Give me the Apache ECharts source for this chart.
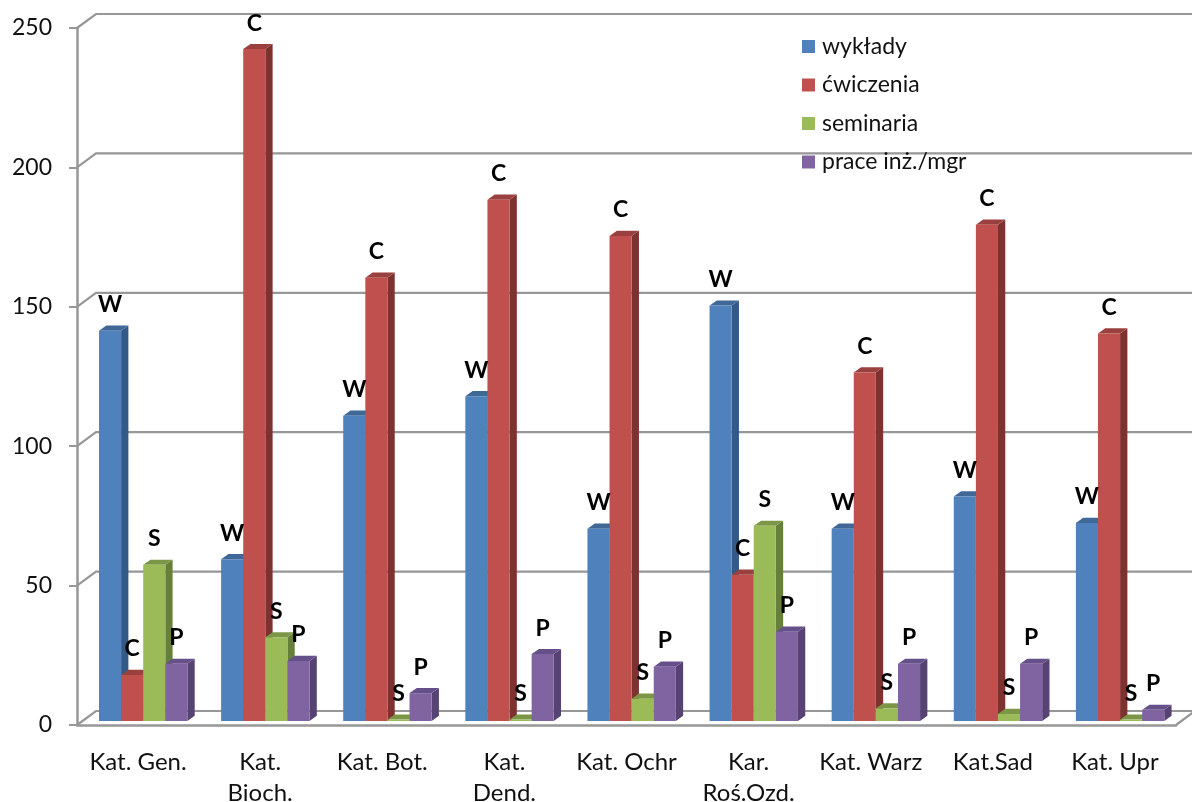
<!DOCTYPE html>
<html><head><meta charset="utf-8">
<script src="https://cdn.jsdelivr.net/npm/echarts@6/dist/echarts.min.js"></script>
<style>html,body{margin:0;padding:0;background:#fff}#c{width:1192px;height:802px}</style>
</head><body><div id="c"></div>
<script>
const categories = ['Kat. Gen.','Kat.\nBioch.','Kat. Bot.','Kat.\nDend.','Kat. Ochr','Kar.\nRoś.Ozd.','Kat. Warz','Kat.Sad','Kat. Upr'];
const wyklady   = [140, 58, 109.5, 116.5, 69, 149, 69, 80.5, 71];
const cwiczenia = [16.5, 241, 159, 187, 174, 52.5, 125, 178, 139];
const seminaria = [56, 30, 0.5, 0.5, 8, 70, 4.5, 2.5, 0.5];
const prace     = [20.5, 21.5, 10, 24, 19.5, 32, 20.5, 20.5, 4];
const yTicks = [0, 50, 100, 150, 200, 250];
const seriesNames = ['wykłady','ćwiczenia','seminaria','prace inż./mgr'];
const seriesLetters = ['W','C','S','P'];
const seriesValues = [wyklady, cwiczenia, seminaria, prace];

const FONT = 'Lato';
const colors = ['#4F81BD','#C0504D','#9BBB59','#8064A2'];
const sideColors = ['#335A87','#7D3230','#66803A','#574373'];
const topColors = ['#3F6897','#9A403E','#7C9647','#66508A'];
const GRID = '#979797';

function renderBar(si){
  return function(params, api){
    const cat = api.value(0), v = api.value(1);
    const band = api.size([1,0])[0];
    const w = 22.1, dx = 7.3, dy = 5.2, lift = 4;
    const c = api.coord([cat, v]), b = api.coord([cat, 0]);
    const x0 = c[0] - band/2 + 22 + si*w;
    const x1 = x0 + w;
    const yT = c[1] - lift, yB = b[1] - lift;
    return {type:'group', children:[
      {type:'polygon', z2:si, shape:{points:[[x1,yT],[x1+dx,yT-dy],[x1+dx,yB-dy],[x1,yB]]}, style:{fill:sideColors[si]}},
      {type:'polygon', z2:si, shape:{points:[[x0,yT],[x0+dx,yT-dy],[x1+dx,yT-dy],[x1,yT]]}, style:{fill:topColors[si]}},
      {type:'rect', z2:si, shape:{x:x0,y:yT,width:w,height:yB-yT}, style:{fill:colors[si]}},
      {type:'text', z2:20, style:{text:seriesLetters[si], x:(x0+x1)/2, y:yT-26, align:'center', verticalAlign:'middle',
        font:'bold 23px '+FONT, fill:'#000'}}
    ]};
  };
}

const wallSeries = {
  type:'custom', name:'wall', silent:true, z:1,
  data: yTicks.map(t => [0, t]),
  encode:{x:0,y:1},
  renderItem(params, api){
    const v = api.value(1), p = api.coord([0, v]);
    const cs = params.coordSys, x0 = cs.x, x1 = cs.x + cs.width;
    const dx = 19, dy = 14;
    const pts = [[x0,p[1]],[x0+dx,p[1]-dy],[x1+dx,p[1]-dy]];
    const kids = [{type:'polyline', shape:{points:pts}, style:{stroke:GRID, lineWidth:2.2, fill:null}}];
    if (v === 0) kids.push({type:'line', shape:{x1:x1,y1:p[1],x2:x1+dx,y2:p[1]-dy}, style:{stroke:GRID, lineWidth:2.2}});
    return {type:'group', children:kids};
  }
};

const chart = echarts.init(document.getElementById('c'), null, {renderer:'canvas'});
chart.setOption({
  animation:false,
  backgroundColor:'#fff',
  grid:{left:77, top:28, width:1099, height:697, containLabel:false, outerBoundsMode:'none'},
  legend:{
    orient:'vertical', left:802, top:35, padding:0, itemWidth:13, itemHeight:13, itemGap:15.5,
    icon:'rect', data:seriesNames,
    textStyle:{fontFamily:FONT, fontSize:23, color:'#111', padding:[0,0,0,2], lineHeight:21},
    z:10
  },
  xAxis:{
    type:'category', data:categories, boundaryGap:true,
    axisLine:{lineStyle:{color:GRID,width:2.5}},
    axisTick:{length:8, lineStyle:{color:GRID,width:2}},
    axisLabel:{fontFamily:FONT, fontSize:24, color:'#111', margin:22, lineHeight:31, interval:0},
    z:5
  },
  yAxis:{
    type:'value', min:0, max:250, interval:50,
    axisLine:{show:true, lineStyle:{color:GRID,width:2.5}},
    axisTick:{show:true, length:8, lineStyle:{color:GRID,width:2}},
    splitLine:{show:false},
    axisLabel:{fontFamily:FONT, fontSize:23, color:'#111', margin:25},
    z:5
  },
  series:[wallSeries].concat(seriesValues.map((vals,si)=>({
    type:'custom', name:seriesNames[si], z:3, silent:true,
    itemStyle:{color:colors[si]},
    data: vals.map((v,i)=>[i,v]),
    encode:{x:0,y:1},
    renderItem: renderBar(si)
  })))
});
</script></body></html>
